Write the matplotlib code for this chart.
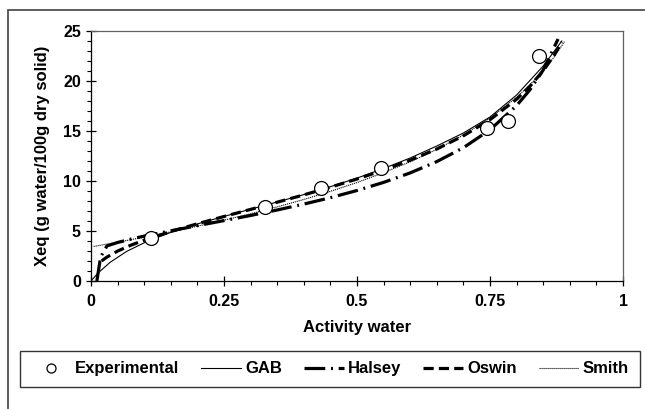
import matplotlib
matplotlib.use("Agg")
import matplotlib.pyplot as plt
from matplotlib.patches import Rectangle
from matplotlib.ticker import MultipleLocator

plt.rcParams['font.family'] = ['Liberation Sans', 'DejaVu Sans']
plt.rcParams['font.weight'] = 'bold'

# experimental points
exp_aw = [0.113, 0.327, 0.432, 0.546, 0.745, 0.783, 0.842]
exp_x = [4.3, 7.4, 9.3, 11.3, 15.3, 16.0, 22.5]

# model curves
gab_aw = [0.0, 0.013, 0.036, 0.067, 0.105, 0.15, 0.2, 0.25, 0.3, 0.35, 0.4, 0.45, 0.5, 0.55, 0.6, 0.65, 0.7, 0.75, 0.8, 0.85, 0.885]
gab_x = [0.0, 0.79, 1.87, 2.96, 3.95, 4.86, 5.71, 6.46, 7.18, 7.90, 8.64, 9.43, 10.29, 11.25, 12.3, 13.5, 14.8, 16.4, 18.6, 21.5, 24.0]

halsey_aw = [0.011, 0.018, 0.03, 0.05, 0.075, 0.1, 0.15, 0.2, 0.25, 0.3, 0.35, 0.4, 0.45, 0.5, 0.55, 0.6, 0.65, 0.7, 0.75, 0.8, 0.825, 0.85, 0.878]
halsey_x = [0.0, 2.4, 3.51, 3.85, 4.19, 4.49, 5.02, 5.53, 6.04, 6.55, 7.10, 7.69, 8.33, 9.05, 9.86, 10.81, 11.94, 13.33, 15.12, 17.54, 19.12, 21.1, 24.2]

oswin_aw = [0.02, 0.03, 0.05, 0.075, 0.1, 0.15, 0.2, 0.25, 0.3, 0.35, 0.4, 0.45, 0.5, 0.55, 0.6, 0.65, 0.7, 0.75, 0.8, 0.825, 0.85, 0.87, 0.885]
oswin_x = [2.01, 2.39, 2.99, 3.58, 4.08, 4.95, 5.72, 6.45, 7.16, 7.88, 8.61, 9.38, 10.2, 11.09, 12.08, 13.2, 14.52, 16.13, 18.18, 19.47, 21.03, 22.53, 23.89]

smith_aw = [0.005, 0.05, 0.1, 0.15, 0.2, 0.25, 0.3, 0.35, 0.4, 0.45, 0.5, 0.55, 0.6, 0.65, 0.7, 0.75, 0.8, 0.825, 0.85, 0.87, 0.89]
smith_x = [3.45, 3.88, 4.38, 4.91, 5.48, 6.08, 6.72, 7.41, 8.15, 8.96, 9.85, 10.83, 11.92, 13.16, 14.6, 16.29, 18.37, 19.61, 21.04, 22.36, 23.93]

fig = plt.figure(figsize=(6.45, 4.09), dpi=100)
ax = fig.add_axes([0.1411, 0.313, 0.8248, 0.6112])

ax.plot(gab_aw, gab_x, color='black', lw=0.8, label='GAB')
ax.plot(halsey_aw, halsey_x, color='black', lw=2.3, dashes=(6.5, 1.8, 0.6, 1.8), label='Halsey')
ax.plot(oswin_aw, oswin_x, color='black', lw=2.3, dashes=(3.2, 1.6), label='Oswin')
ax.plot(smith_aw, smith_x, color='black', lw=0.8, dashes=(1, 0.8), label='Smith')
ax.plot(exp_aw, exp_x, 'o', ms=10, mfc='white', mec='black', mew=0.9, label='Experimental', zorder=5)

ax.set_xlim(0, 1)
ax.set_ylim(0, 25)
ax.set_xticks([0, 0.25, 0.5, 0.75, 1])
ax.set_xticklabels(['0', '0.25', '0.5', '0.75', '1'])
ax.set_yticks([0, 5, 10, 15, 20, 25])
ax.xaxis.set_minor_locator(MultipleLocator(0.05))
ax.yaxis.set_minor_locator(MultipleLocator(1))
ax.tick_params(which='major', direction='inout', length=6.5, width=0.9, labelsize=11.5, pad=4)
ax.tick_params(which='minor', direction='out', length=2.6, width=0.8)
ax.tick_params(axis='x', which='major', pad=6)

ax.set_xlabel('Activity water', fontsize=12, fontweight='bold', labelpad=8)
ax.set_ylabel('Xeq (g water/100g dry solid)', fontsize=12, fontweight='bold', labelpad=9)

ax.spines['left'].set_linewidth(0.9)
ax.spines['bottom'].set_linewidth(0.9)
for s in ['top', 'right']:
    ax.spines[s].set_color('#606060')
    ax.spines[s].set_linewidth(0.9)

# legend under the plot, in original order
h, l = ax.get_legend_handles_labels()
order = [4, 0, 1, 2, 3]
leg = fig.legend([h[i] for i in order], [l[i] for i in order], loc='center',
                 bbox_to_anchor=(0.5116, 0.0978), ncol=5, frameon=True, fancybox=False,
                 edgecolor='black', handlelength=2.4, handletextpad=0.25,
                 columnspacing=1.3, borderpad=0.65, markerscale=0.65,
                 prop={'size': 12, 'weight': 'bold'})
leg.get_frame().set_linewidth(1.0)

# outer chart frame (runs off the right and bottom edges)
fig.patches.append(Rectangle((8 / 645, -0.2), 1.2, 1.2 - 10 / 409, transform=fig.transFigure,
                             fill=False, edgecolor='#505050', lw=1.3, clip_on=False))

fig.savefig('out.png', dpi=100)
